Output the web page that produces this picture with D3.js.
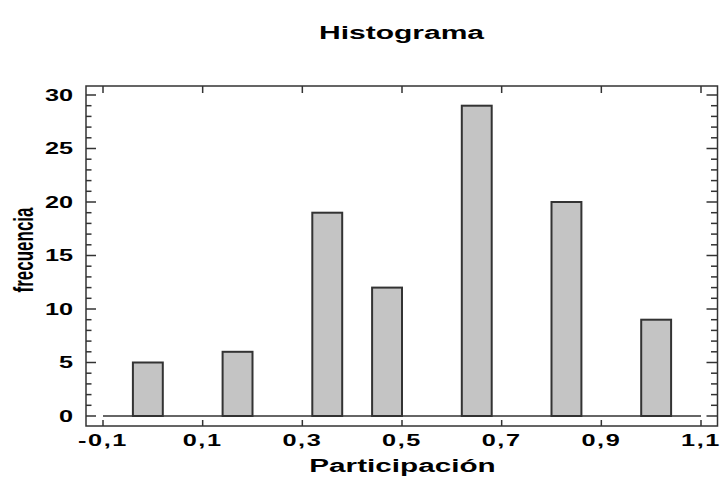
<!DOCTYPE html>
<html>
<head>
<meta charset="utf-8">
<script src="https://cdn.jsdelivr.net/npm/d3@7"></script>
<style>
  body { margin: 0; background: #fff; }
  text { font-family: "Liberation Sans", Arial, sans-serif; font-weight: bold; fill: #000; }
</style>
</head>
<body>
<div id="chart"></div>
<script>
// histogram bins (lower edge, upper edge) and counts
var binLo = [-0.04, 0.14, 0.32, 0.44, 0.62, 0.80, 0.98];
var binHi = [0.02, 0.20, 0.38, 0.50, 0.68, 0.86, 1.04];
var counts = [5, 6, 19, 12, 29, 20, 9];
var histRange = [-0.1, 1.1];
var xTicks = [-0.1, 0.1, 0.3, 0.5, 0.7, 0.9, 1.1];
var yTicks = [0, 5, 10, 15, 20, 25, 30];
var yMinor = d3.range(0, 31);

var W = 724, H = 478;
var frame = { left: 86, right: 717.5, top: 86, bottom: 426 };
var sx = 1.58; // the original picture is stretched sideways

var svg = d3.select('#chart').append('svg')
  .attr('width', W)
  .attr('height', H);

var x = d3.scaleLinear().domain(histRange).range([103, 701]);
var y = d3.scaleLinear().domain([0, 30]).range([416, 95]);

var fmt = function(d) { return d3.format('.1f')(d).replace('.', ',').replace('−', '-'); };

// bars
svg.selectAll('rect.bar')
  .data(counts)
  .enter()
  .append('rect')
  .attr('class', 'bar')
  .attr('x', function(d, i) { return x(binLo[i]); })
  .attr('y', function(d) { return y(d); })
  .attr('width', function(d, i) { return x(binHi[i]) - x(binLo[i]); })
  .attr('height', function(d) { return y(0) - y(d); })
  .attr('fill', '#c4c4c4')
  .attr('stroke', '#333')
  .attr('stroke-width', 2);

// zero line across the histogram range
svg.append('line')
  .attr('x1', x(histRange[0])).attr('x2', x(histRange[1]))
  .attr('y1', y(0)).attr('y2', y(0))
  .attr('stroke', '#333').attr('stroke-width', 1.5);

// ticks, all pointing inwards
var tickG = svg.append('g').attr('stroke', '#333').attr('stroke-width', 1.5);
yMinor.forEach(function(v) {
  var len = v % 5 === 0 ? 10 : 5.5;
  tickG.append('line').attr('x1', frame.left).attr('x2', frame.left + len)
    .attr('y1', y(v)).attr('y2', y(v));
  tickG.append('line').attr('x1', frame.right).attr('x2', frame.right - len - 1)
    .attr('y1', y(v)).attr('y2', y(v));
});
xTicks.forEach(function(v) {
  tickG.append('line').attr('x1', x(v)).attr('x2', x(v))
    .attr('y1', frame.bottom).attr('y2', frame.bottom - 6);
  tickG.append('line').attr('x1', x(v)).attr('x2', x(v))
    .attr('y1', frame.top).attr('y2', frame.top + 7);
});

// frame
svg.append('rect')
  .attr('x', frame.left).attr('y', frame.top)
  .attr('width', frame.right - frame.left)
  .attr('height', frame.bottom - frame.top)
  .attr('fill', 'none')
  .attr('stroke', '#333')
  .attr('stroke-width', 1.5);

// tick labels
svg.selectAll('text.ylab')
  .data(yTicks)
  .enter()
  .append('text')
  .attr('class', 'ylab')
  .attr('transform', function(d) { return 'translate(73,' + y(d) + ') scale(' + sx + ',1)'; })
  .attr('dy', '0.36em')
  .attr('text-anchor', 'end')
  .style('font-size', '16px')
  .text(function(d) { return d; });

svg.selectAll('text.xlab')
  .data(xTicks)
  .enter()
  .append('text')
  .attr('class', 'xlab')
  .attr('transform', function(d) { return 'translate(' + x(d) + ',446) scale(' + sx + ',1)'; })
  .attr('text-anchor', 'middle')
  .style('font-size', '16px')
  .style('letter-spacing', '1px')
  .text(fmt);

// titles
svg.append('text')
  .attr('transform', 'translate(401.5,39) scale(' + sx + ',1)')
  .attr('text-anchor', 'middle')
  .style('font-size', '19px')
  .text('Histograma');

svg.append('text')
  .attr('transform', 'translate(402.5,472) scale(1.65,1)')
  .attr('text-anchor', 'middle')
  .style('font-size', '18px')
  .text('Participación');

svg.append('text')
  .attr('transform', 'translate(33,250) scale(' + sx + ',1) rotate(-90)')
  .attr('text-anchor', 'middle')
  .style('font-size', '17px')
  .text('frecuencia');
</script>
</body>
</html>
